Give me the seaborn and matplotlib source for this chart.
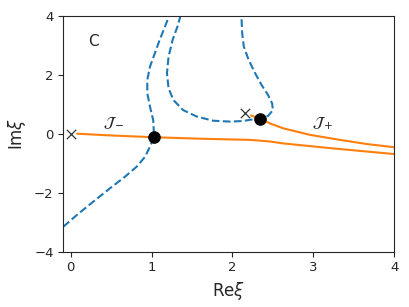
import numpy as np
import pandas as pd
import matplotlib
matplotlib.use("Agg")
import matplotlib.pyplot as plt
import seaborn as sns

# Blue dashed curve 1 (left thimble)
blue1_x = [-0.09, 0.074, 0.28, 0.486, 0.67, 0.815, 0.92, 0.98, 1.03, 1.03, 1.02, 0.98, 0.947, 0.947, 0.98, 1.04, 1.10, 1.166, 1.22]
blue1_y = [-3.15, -2.76, -2.30, -1.85, -1.46, -1.12, -0.78, -0.44, -0.12, -0.04, 0.46, 0.92, 1.37, 1.82, 2.27, 2.72, 3.18, 3.63, 4.02]

# Blue dashed curve 2 (loop)
blue2_x = [1.36, 1.32, 1.26, 1.21, 1.19, 1.21, 1.27, 1.39, 1.56, 1.76, 1.97, 2.13, 2.26, 2.34, 2.44, 2.50, 2.49, 2.44, 2.36, 2.28, 2.20, 2.14, 2.12, 2.11]
blue2_y = [4.02, 3.63, 3.18, 2.61, 2.05, 1.54, 1.14, 0.80, 0.58, 0.44, 0.41, 0.43, 0.49, 0.52, 0.60, 0.80, 1.03, 1.31, 1.65, 2.05, 2.50, 2.95, 3.40, 4.02]

# Orange curves
jminus_x = [0.08, 0.50, 1.03, 1.60, 2.22, 2.45, 2.63, 3.25, 4.0]
jminus_y = [0.0, -0.06, -0.12, -0.17, -0.21, -0.26, -0.33, -0.50, -0.69]
jplus_x = [2.23, 2.34, 2.48, 2.63, 2.96, 3.33, 3.66, 4.0]
jplus_y = [0.62, 0.50, 0.33, 0.18, -0.04, -0.21, -0.35, -0.46]

# Saddle points and singularities
saddle_x = [1.03, 2.34]
saddle_y = [-0.12, 0.50]
sing_x = [0.0, 2.16]
sing_y = [0.0, 0.71]

xticks = [0, 1, 2, 3, 4]
yticks = [-4, -2, 0, 2, 4]

sns.set_style("ticks")
fig = plt.figure(figsize=(4.09, 3.07), dpi=100)
ax = fig.add_subplot(111)
fig.subplots_adjust(left=0.155, right=0.964, top=0.949, bottom=0.180)

blue = "#1f77b4"
orange = "#ff7f0e"
sns.lineplot(x=blue1_x, y=blue1_y, sort=False, estimator=None, color=blue, linestyle="--", lw=1.5, ax=ax)
sns.lineplot(x=blue2_x, y=blue2_y, sort=False, estimator=None, color=blue, linestyle="--", lw=1.5, ax=ax)
sns.lineplot(x=jminus_x, y=jminus_y, sort=False, estimator=None, color=orange, lw=1.5, ax=ax)
sns.lineplot(x=jplus_x, y=jplus_y, sort=False, estimator=None, color=orange, lw=1.5, ax=ax)
sns.scatterplot(x=saddle_x, y=saddle_y, color="black", s=70, edgecolor="black", zorder=5, ax=ax)
sns.scatterplot(x=sing_x, y=sing_y, color="#333333", marker="x", s=45, linewidth=0.9, zorder=5, ax=ax)

ax.text(0.28, 3.12, "C", fontsize=11, ha="center", va="center")
ax.text(0.53, 0.35, r"$\mathcal{J}_-$", fontsize=11, ha="center", va="center")
ax.text(3.12, 0.35, r"$\mathcal{J}_+$", fontsize=11, ha="center", va="center")

ax.set_xlim(-0.09, 4)
ax.set_ylim(-4, 4)
ax.set_xticks(xticks)
ax.set_yticks(yticks)
ax.tick_params(labelsize=9.5)
ax.set_xlabel(r"Re$\xi$", fontsize=12)
ax.set_ylabel(r"Im$\xi$", fontsize=12)
for s in ax.spines.values():
    s.set_visible(True)

fig.savefig("out.png", dpi=100)
